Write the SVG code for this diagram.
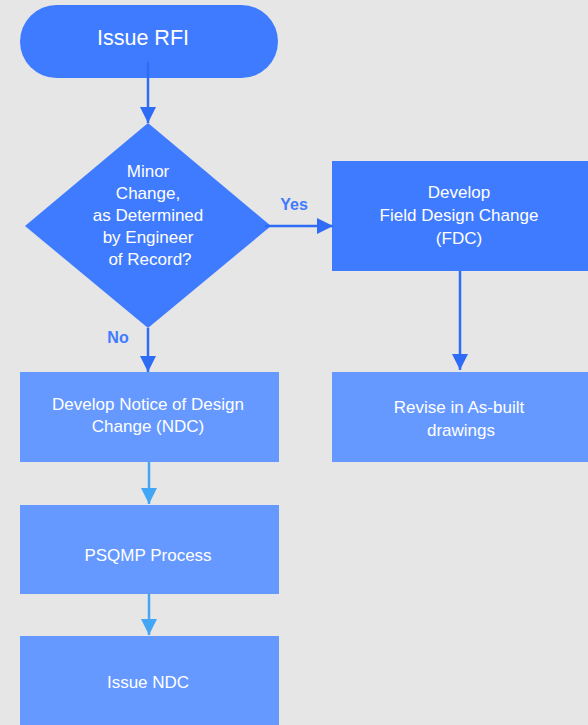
<svg xmlns="http://www.w3.org/2000/svg" width="588" height="725" viewBox="0 0 588 725">
<defs>
<style>
.dark{fill:#3f7bff}
.light{fill:#6699ff}
.t{font-family:"Liberation Sans",Arial,sans-serif;font-size:17px;fill:#ffffff;text-anchor:middle}
.lbl{font-family:"Liberation Sans",Arial,sans-serif;font-size:16px;font-weight:bold;fill:#3f7bff;text-anchor:middle}
.cd{stroke:#2f6cf5;stroke-width:2.5;fill:none}
.cl{stroke:#42a5f5;stroke-width:2.5;fill:none}
</style>
<marker id="ad" viewBox="0 0 16 16" refX="16" refY="8" markerWidth="16" markerHeight="16" markerUnits="userSpaceOnUse" orient="auto"><path d="M0,0 L16,8 L0,16 Z" fill="#2f6cf5"/></marker>
<marker id="al" viewBox="0 0 16 16" refX="16" refY="8" markerWidth="16" markerHeight="16" markerUnits="userSpaceOnUse" orient="auto"><path d="M0,0 L16,8 L0,16 Z" fill="#42a5f5"/></marker>
</defs>
<rect width="588" height="725" fill="#e6e6e6"/>
<g id="n-issue-rfi"><rect class="dark" x="20" y="5" width="258" height="73" rx="36.5"/><text class="t" x="143" y="45" style="font-size:21.5px">Issue RFI</text></g>
<g id="n-decision"><polygon class="dark" points="148,123 271,226 148,328 25,226"/>
<text class="t" x="148" y="177">Minor</text><text class="t" x="148" y="199">Change,</text><text class="t" x="148" y="221">as Determined</text><text class="t" x="148" y="243">by Engineer</text><text class="t" x="150" y="265">of Record?</text></g>
<g id="n-fdc"><rect class="dark" x="332" y="161" width="256" height="110"/>
<text class="t" x="459" y="198">Develop</text><text class="t" x="459" y="221">Field Design Change</text><text class="t" x="459" y="244">(FDC)</text></g>
<g id="n-revise"><rect class="light" x="332" y="372" width="256" height="90"/>
<text class="t" x="459" y="413">Revise in As-built</text><text class="t" x="461" y="436">drawings</text></g>
<g id="n-ndc"><rect class="light" x="20" y="372" width="259" height="90"/>
<text class="t" x="148" y="410">Develop Notice of Design</text><text class="t" x="148" y="432">Change (NDC)</text></g>
<g id="n-psqmp"><rect class="light" x="20" y="505" width="259" height="89"/><text class="t" x="148" y="561">PSQMP Process</text></g>
<g id="n-issue-ndc"><rect class="light" x="20" y="636" width="259" height="89"/><text class="t" x="148" y="688">Issue NDC</text></g>
<g id="connectors">
<line class="cd" x1="148" y1="62" x2="148" y2="123" marker-end="url(#ad)"/>
<line class="cd" x1="265" y1="226" x2="333" y2="226" marker-end="url(#ad)"/>
<line class="cd" x1="148" y1="328" x2="148" y2="372" marker-end="url(#ad)"/>
<line class="cd" x1="460" y1="271" x2="460" y2="370" marker-end="url(#ad)"/>
<line class="cl" x1="149" y1="462" x2="149" y2="504" marker-end="url(#al)"/>
<line class="cl" x1="149" y1="594" x2="149" y2="635" marker-end="url(#al)"/>
<text class="lbl" x="294" y="210">Yes</text>
<text class="lbl" x="118" y="343">No</text>
</g>
</svg>
